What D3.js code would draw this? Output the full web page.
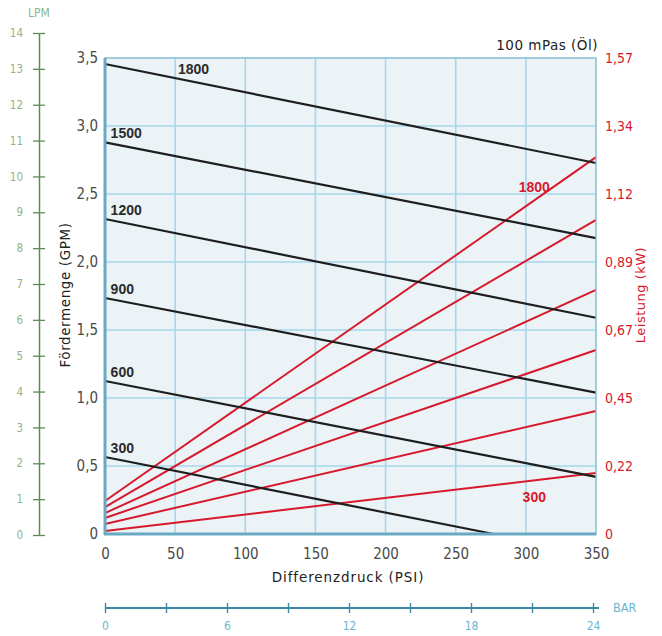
<!DOCTYPE html>
<html><head><meta charset="utf-8">
<script src="https://cdn.jsdelivr.net/npm/d3@7"></script>
<style>body{margin:0;background:#fff}</style>
</head><body><svg id="c" width="662" height="636"></svg>
<script>
// ---- data ----
const speeds = [1800, 1500, 1200, 900, 600, 300];
const flowStart = [3.456, 2.88, 2.316, 1.735, 1.125, 0.566];   // GPM at 0 PSI
const flowEnd = [2.728, 2.176, 1.59, 1.04, 0.42, 0];            // GPM at end pressure
const flowEndPsi = [350, 350, 350, 350, 350, 277];
const powerStart = [0.109, 0.089, 0.069, 0.053, 0.033, 0.010];  // kW at 0 PSI
const powerEnd = [1.243, 1.036, 0.805, 0.607, 0.406, 0.201];    // kW at 350 PSI
const psiTicks = [0, 50, 100, 150, 200, 250, 300, 350];
const gpmTicks = [0, 0.5, 1.0, 1.5, 2.0, 2.5, 3.0, 3.5];
const gpmLabels = ["0", "0,5", "1,0", "1,5", "2,0", "2,5", "3,0", "3,5"];
const kwTicks = [0, 0.2243, 0.4486, 0.673, 0.897, 1.121, 1.346, 1.57];
const kwLabels = ["0", "0,22", "0,45", "0,67", "0,89", "1,12", "1,34", "1,57"];
const lpmTicks = [0, 1, 2, 3, 4, 5, 6, 7, 8, 9, 10, 11, 12, 13, 14];
const barTicks = [0, 3, 6, 9, 12, 15, 18, 21, 24];
const barLabels = ["0", "", "6", "", "12", "", "18", "", "24"];

// ---- layout ----
const svg = d3.select("#c");
const x = d3.scaleLinear([0, 350], [105, 596]);
const y = d3.scaleLinear([0, 3.5], [534, 58]);
const yk = d3.scaleLinear([0, 1.57], [534, 58]);
const yl = d3.scaleLinear([0, 14], [535, 33]);
const xb = d3.scaleLinear([0, 24], [105, 593]);

const narrow = "'DejaVu Sans Condensed', 'Liberation Sans Narrow', sans-serif";
const sans = "'DejaVu Sans', sans-serif";

// plot background
svg.append("rect").attr("x", x(0)).attr("y", y(3.5)).attr("width", x(350) - x(0)).attr("height", y(0) - y(3.5))
  .attr("fill", "#ecf3f6");

// grid
const grid = svg.append("g");
grid.selectAll("line.v").data(psiTicks.slice(1, -1)).join("line")
  .attr("x1", d => x(d)).attr("x2", d => x(d)).attr("y1", y(0)).attr("y2", y(3.5))
  .attr("stroke", "#a6d7ec").attr("stroke-width", 1.6);
grid.selectAll("line.h").data(gpmTicks.slice(1, -1)).join("line")
  .attr("x1", x(0)).attr("x2", x(350)).attr("y1", d => y(d)).attr("y2", d => y(d))
  .attr("stroke", "#a6d7ec").attr("stroke-width", 1.6);

// power lines (red)
const pw = speeds.map((s, i) => ({ s, pts: [[0, powerStart[i]], [350, powerEnd[i]]] }));
const lineK = d3.line().x(d => x(d[0])).y(d => yk(d[1]));
svg.append("g").selectAll("path").data(pw).join("path")
  .attr("d", d => lineK(d.pts)).attr("fill", "none").attr("stroke", "#d7192d").attr("stroke-width", 2);

// flow lines (black)
const fl = speeds.map((s, i) => ({ s, pts: [[0, flowStart[i]], [flowEndPsi[i], flowEnd[i]]] }));
const lineG = d3.line().x(d => x(d[0])).y(d => y(d[1]));
svg.append("g").selectAll("path").data(fl).join("path")
  .attr("d", d => lineG(d.pts)).attr("fill", "none").attr("stroke", "#1e1e1e").attr("stroke-width", 2.2);

// flow labels
svg.append("g").selectAll("text").data(fl).join("text")
  .attr("x", d => x(d.s === 1800 ? 52 : 4))
  .attr("y", d => {
    const p = d.s === 1800 ? 52 : 4;
    const v = d.pts[0][1] + (d.pts[1][1] - d.pts[0][1]) * p / d.pts[1][0];
    return y(v) - 5;
  })
  .attr("font-family", "'Liberation Sans', Arial, sans-serif").attr("font-weight", "bold")
  .attr("font-size", 14).attr("fill", "#2a2a2a").text(d => d.s);

// power labels (1800 and 300)
const pl = [pw[0], pw[5]];
svg.append("g").selectAll("text").data(pl).join("text")
  .attr("x", x(306)).attr("text-anchor", "middle")
  .attr("y", d => {
    const v = d.pts[0][1] + (d.pts[1][1] - d.pts[0][1]) * 306 / 350;
    return d.s === 1800 ? yk(v) - 8 : yk(v) + 22;
  })
  .attr("font-family", "'Liberation Sans', Arial, sans-serif").attr("font-weight", "bold")
  .attr("font-size", 14).attr("fill", "#d7192d").text(d => d.s);

// frame
svg.append("rect").attr("x", x(0)).attr("y", y(3.5)).attr("width", x(350) - x(0)).attr("height", y(0) - y(3.5))
  .attr("fill", "none").attr("stroke", "#86bdd2").attr("stroke-width", 1.5);
svg.append("line").attr("x1", x(0)).attr("x2", x(0)).attr("y1", y(3.5)).attr("y2", y(0) + 1)
  .attr("stroke", "#6aa9c3").attr("stroke-width", 3);
svg.append("line").attr("x1", x(0) - 1).attr("x2", x(350)).attr("y1", y(0)).attr("y2", y(0))
  .attr("stroke", "#6aa9c3").attr("stroke-width", 3);

// x axis (PSI)
const gx = svg.append("g").attr("transform", `translate(0,${y(0)})`)
  .call(d3.axisBottom(x).tickValues(psiTicks).tickSize(0).tickPadding(14).tickFormat(d3.format("d")));
gx.select(".domain").remove();
gx.selectAll("text").attr("font-family", narrow).attr("font-size", 15).attr("fill", "#4a4a4a");

// y axis (GPM)
const gy = svg.append("g").attr("transform", `translate(${x(0)},0)`)
  .call(d3.axisLeft(y).tickValues(gpmTicks).tickSize(0).tickPadding(7).tickFormat((d, i) => gpmLabels[i]));
gy.select(".domain").remove();
gy.selectAll("text").attr("font-family", narrow).attr("font-size", 15).attr("fill", "#4a4a4a");

// right axis (kW)
const gk = svg.append("g").attr("transform", `translate(${x(350)},0)`)
  .call(d3.axisRight(yk).tickValues(kwTicks).tickSize(0).tickPadding(9).tickFormat((d, i) => kwLabels[i]));
gk.select(".domain").remove();
gk.selectAll("text").attr("font-family", narrow).attr("font-size", 14).attr("fill", "#d7192d");

// LPM axis
const gl = svg.append("g").attr("transform", "translate(39,0)")
  .call(d3.axisLeft(yl).tickValues(lpmTicks).tickSize(6).tickSizeOuter(0).tickPadding(10));
gl.select(".domain").attr("stroke", "#5f8a57").attr("stroke-width", 1.5);
gl.selectAll(".tick line").attr("x1", 6).attr("x2", -6).attr("stroke", "#5f8a57").attr("stroke-width", 1.3);
gl.selectAll("text").attr("font-family", narrow).attr("font-size", 11.5).attr("fill", "#8db585");
svg.append("text").attr("x", 39).attr("y", 17).attr("text-anchor", "middle")
  .attr("font-family", narrow).attr("font-size", 12).attr("fill", "#8db585").text("LPM");

// BAR axis
const gb = svg.append("g").attr("transform", "translate(0,608)")
  .call(d3.axisBottom(xb).tickValues(barTicks).tickSize(5).tickSizeOuter(0).tickPadding(8)
    .tickFormat((d, i) => barLabels[i]));
gb.select(".domain").attr("d", `M${xb(0)},0H${xb(24) + 6}`).attr("stroke", "#3a8aa6").attr("stroke-width", 2);
gb.selectAll(".tick line").attr("y1", -5).attr("y2", 5).attr("stroke", "#3a8aa6").attr("stroke-width", 1.4);
gb.selectAll("text").attr("font-family", narrow).attr("font-size", 12).attr("fill", "#6db6d2");
svg.append("text").attr("x", 613).attr("y", 612).attr("font-family", narrow).attr("font-size", 12.5)
  .attr("fill", "#6db6d2").text("BAR");

// titles
svg.append("text").attr("x", 348).attr("y", 582).attr("text-anchor", "middle")
  .attr("font-family", sans).attr("font-size", 13.5).attr("letter-spacing", 0.9).attr("fill", "#222")
  .text("Differenzdruck (PSI)");
svg.append("text").attr("transform", "translate(70,295) rotate(-90)").attr("text-anchor", "middle")
  .attr("font-family", sans).attr("font-size", 13.5).attr("letter-spacing", 0.6).attr("fill", "#222")
  .text("Fördermenge (GPM)");
svg.append("text").attr("transform", "translate(645,295) rotate(-90)").attr("text-anchor", "middle")
  .attr("font-family", sans).attr("font-size", 13).attr("letter-spacing", 0.5).attr("fill", "#d7192d")
  .text("Leistung (kW)");
svg.append("text").attr("x", 598).attr("y", 50).attr("text-anchor", "end")
  .attr("font-family", sans).attr("font-size", 13.5).attr("letter-spacing", 0.5).attr("fill", "#222")
  .text("100 mPas (Öl)");
</script>
</body></html>
